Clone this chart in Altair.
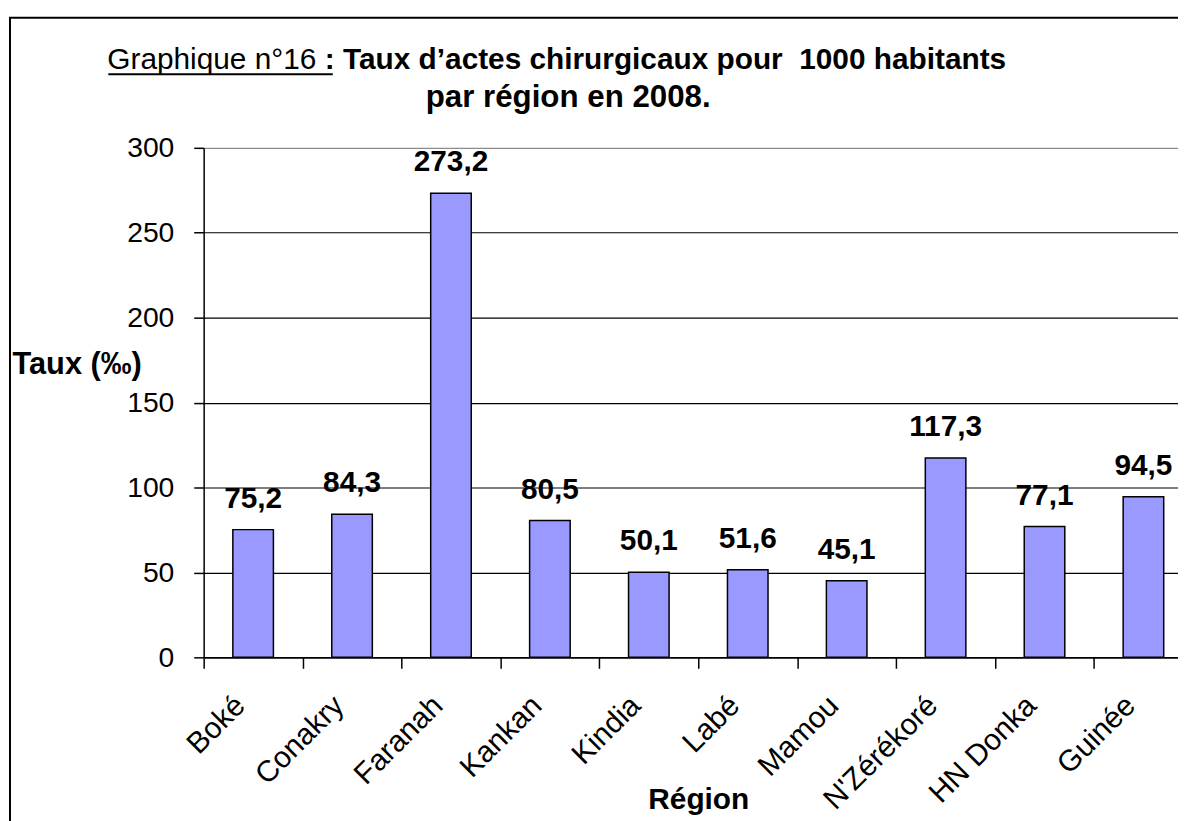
import altair as alt
import pandas as pd

regions = ["Boké", "Conakry", "Faranah", "Kankan", "Kindia", "Labé", "Mamou",
           "N'Zérékoré", "HN Donka", "Guinée"]
taux = [75.2, 84.3, 273.2, 80.5, 50.1, 51.6, 45.1, 117.3, 77.1, 94.5]
y_ticks = [0, 50, 100, 150, 200, 250, 300]

title_regular = "Graphique n°16"
title_bold_1 = ": Taux d’actes chirurgicaux pour \u00a01000 habitants"
title_bold_2 = "par région en 2008."
x_title = "Région"
y_title = "Taux (‰)"

FONT = "Liberation Sans"

df = pd.DataFrame({"region": regions, "taux": taux})
one = pd.DataFrame({"k": [0]})

x_enc = alt.X(
    "region:N", sort=regions,
    scale=alt.Scale(range=[0, 996], paddingInner=0, paddingOuter=0),
    axis=alt.Axis(
        title=x_title, titleFont=FONT, titleFontSize=30, titleFontWeight="bold",
        titleColor="black", titleBaseline="alphabetic", titleY=152,
        labelFont=FONT, labelFontSize=30, labelColor="black",
        labelAngle=-45, labelAlign="right", labelBaseline="top",
        labelPadding=22, labelOffset=-24, labelOverlap=False, labelLimit=400,
        tickBand="extent", tickSize=11, tickColor="black", tickWidth=1.5,
        domainColor="black", domainWidth=1.5, grid=False,
    ),
)
y_enc = alt.Y(
    "taux:Q",
    scale=alt.Scale(domain=[0, 300], nice=False),
    axis=alt.Axis(
        values=y_ticks, format="d",
        title=y_title, titleFont=FONT, titleFontSize=31, titleFontWeight="bold",
        titleColor="black", titleAngle=0, titleAlign="left",
        titleBaseline="alphabetic", titleX=-193, titleY=227,
        labelFont=FONT, labelFontSize=28.5, labelColor="black", labelPadding=20,
        tickSize=10, tickColor="black", tickWidth=1.5,
        domainColor="black", domainWidth=1.5,
        grid=True, gridWidth=1.2,
        gridColor={"condition": {"test": "datum.value === 300", "value": "#8c8c8c"},
                   "value": "black"},
    ),
)

frame = alt.Chart(one).mark_rect(
    fill="transparent", stroke="black", strokeWidth=2
).encode(
    x=alt.value(-195), x2=alt.value(1300), y=alt.value(-131), y2=alt.value(1000)
)

bars = alt.Chart(df).mark_bar(
    color="#9999FF", stroke="black", strokeWidth=1.5,
    width=alt.RelativeBandSize(0.41),
).encode(x=x_enc, y=y_enc)

labels = alt.Chart(df).transform_calculate(
    lab="replace(format(datum.taux, '.1f'), '.', ',')"
).mark_text(
    font=FONT, fontSize=30, fontWeight="bold", color="black",
    baseline="alphabetic", align="center", dy=-22,
).encode(x=alt.X("region:N", sort=regions), y="taux:Q", text="lab:N")

t1 = alt.Chart(one).mark_text(
    text=title_regular, font=FONT, fontSize=30, color="black",
    align="left", baseline="alphabetic",
).encode(x=alt.value(-97), y=alt.value(-79))

t2 = alt.Chart(one).mark_text(
    text=title_bold_1, font=FONT, fontSize=30, fontWeight="bold", color="black",
    align="left", baseline="alphabetic",
).encode(x=alt.value(122), y=alt.value(-79))

t3 = alt.Chart(one).mark_text(
    text=title_bold_2, font=FONT, fontSize=31.5, fontWeight="bold", color="black",
    align="center", baseline="alphabetic",
).encode(x=alt.value(367), y=alt.value(-41))

underline = alt.Chart(one).mark_rule(color="black", strokeWidth=2).encode(
    x=alt.value(-96), x2=alt.value(130), y=alt.value(-74)
)

chart = alt.layer(frame, bars, labels, t1, t2, t3, underline).properties(
    width=981, height=513,
    autosize=alt.AutoSizeParams(type="none"),
    padding={"left": 197, "top": 138, "right": 0, "bottom": 162},
    background="white",
).configure_view(strokeOpacity=0)

chart.save("out.html", embed_options={"renderer": "svg", "actions": False})
